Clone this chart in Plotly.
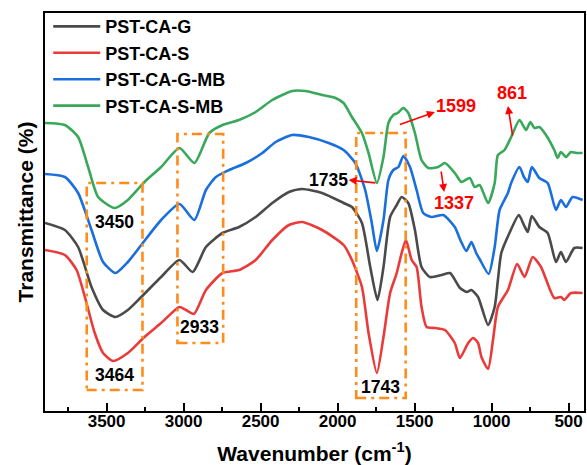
import plotly.graph_objects as go

# FTIR spectra (wavenumber in cm-1, transmittance in offset arbitrary units)
wn_g = [3900, 3771, 3685, 3598, 3523, 3443, 3362, 3275, 3146, 3027, 2941, 2855, 2747, 2640,
        2532, 2424, 2316, 2230, 2101, 1961, 1907, 1842, 1788, 1741, 1702, 1659, 1616, 1584,
        1541, 1498, 1455, 1401, 1325, 1270, 1205, 1162, 1131, 1088, 1023, 980, 959, 937,
        884, 823, 790, 765, 739, 690, 636, 582, 550, 517, 463, 409]
t_g = [188, 181, 164, 124, 101, 94, 101, 114, 134, 151, 139, 164, 178, 184,
       194, 208, 219, 222, 218, 208, 204, 188, 144, 111, 144, 194, 206, 214,
       208, 181, 144, 134, 136, 138, 123, 119, 121, 114, 86, 104, 131, 158,
       178, 196, 186, 179, 195, 184, 178, 149, 159, 149, 163, 163]

wn_s = [3900, 3771, 3695, 3641, 3577, 3523, 3458, 3362, 3254, 3146, 3027, 2985, 2933, 2855,
        2747, 2640, 2532, 2424, 2316, 2230, 2101, 1961, 1907, 1842, 1799, 1745, 1702, 1659,
        1616, 1584, 1556, 1519, 1487, 1455, 1422, 1368, 1303, 1239, 1206, 1152, 1120, 1088,
        1066, 1023, 991, 959, 894, 834, 786, 733, 679, 593, 550, 528, 485, 409]
t_s = [161, 156, 141, 114, 78, 58, 50, 58, 74, 88, 104, 101, 97, 121,
       138, 141, 151, 171, 186, 189, 181, 166, 151, 124, 78, 38, 74, 118,
       138, 158, 171, 151, 144, 104, 84, 83, 81, 68, 53, 68, 73, 68,
       54, 42, 71, 104, 121, 147, 134, 154, 144, 113, 114, 111, 118, 118]

wn_gmb = [3900, 3771, 3685, 3598, 3523, 3443, 3362, 3275, 3146, 3027, 2930, 2855, 2790, 2704,
          2596, 2489, 2402, 2295, 2187, 2058, 1961, 1885, 1821, 1778, 1745, 1702, 1670, 1638,
          1605, 1573, 1530, 1487, 1444, 1390, 1314, 1239, 1200, 1164, 1131, 1100, 1078, 1019,
          980, 948, 894, 873, 819, 790, 765, 739, 690, 636, 582, 550, 517, 474, 409]
t_gmb = [237, 234, 218, 181, 149, 138, 149, 166, 191, 207, 191, 221, 234, 241,
         248, 258, 269, 276, 274, 268, 261, 248, 221, 188, 160, 191, 231, 241,
         244, 255, 244, 221, 198, 194, 196, 184, 170, 160, 169, 158, 152, 137,
         164, 201, 218, 228, 244, 234, 229, 244, 233, 228, 201, 211, 204, 214, 211]

wn_smb = [3900, 3771, 3685, 3620, 3555, 3448, 3362, 3254, 3146, 3027, 2930, 2833, 2747, 2640,
          2532, 2424, 2295, 2208, 2101, 2014, 1961, 1907, 1842, 1799, 1745, 1702, 1670, 1638,
          1610, 1573, 1541, 1498, 1455, 1411, 1347, 1303, 1239, 1196, 1142, 1110, 1078, 1023,
          980, 959, 916, 873, 819, 776, 748, 722, 690, 647, 593, 571, 550, 517, 485, 450, 409]
t_smb = [288, 286, 274, 244, 214, 203, 211, 229, 244, 263, 248, 278, 286, 291,
         299, 311, 320, 320, 316, 313, 308, 294, 278, 258, 228, 254, 288, 296,
         298, 303, 298, 278, 251, 243, 244, 248, 238, 229, 233, 224, 226, 208,
         228, 256, 261, 274, 291, 281, 289, 283, 284, 276, 261, 253, 259, 254, 259, 258, 258]

series = [
    ("PST-CA-G", wn_g, t_g, "#4a4a4a"),
    ("PST-CA-S", wn_s, t_s, "#ea3b3b"),
    ("PST-CA-G-MB", wn_gmb, t_gmb, "#1a6fdc"),
    ("PST-CA-S-MB", wn_smb, t_smb, "#39a85a"),
]

# highlighted band regions: (wn_high, wn_low, t_low, t_high)
boxes = [(3629, 3267, 21, 228), (3040, 2743, 68, 277), (1879, 1558, 13, 278)]

FONT = "Arial, Liberation Sans, sans-serif"
fig = go.Figure()
for name, x, y, c in series:
    fig.add_trace(go.Scatter(x=x, y=y, mode="lines", name=name,
                             line=dict(color=c, width=2.6, shape="spline", smoothing=0.6)))

for x0, x1, y0, y1 in boxes:
    fig.add_shape(type="rect", xref="x", yref="y", x0=x0, x1=x1, y0=y0, y1=y1,
                  line=dict(color="#ff8c1a", width=2.6, dash="10px,5px,3px,5px"))

labels = [("3450", 3448, 189, "black", 17.5), ("3464", 3448, 36, "black", 17.5),
          ("2933", 2898, 84, "black", 17.5), ("1743", 1724, 24, "black", 17.5),
          ("1735", 2062, 231, "black", 17.5), ("1599", 1232, 305, "red", 18),
          ("1337", 1243, 208, "red", 18), ("861", 868, 318, "red", 18)]
for txt, x, y, c, s in labels:
    fig.add_annotation(x=x, y=y, text=f"<b>{txt}</b>", showarrow=False,
                       font=dict(family=FONT, size=s, color=c))

# arrows: (head_x, head_y, tail_x, tail_y)
arrows = [(1928, 231, 1745, 228), (1368, 299, 1605, 286),
          (1308, 219, 1329, 241), (894, 305, 862, 274)]
for hx, hy, tx, ty in arrows:
    fig.add_annotation(x=hx, y=hy, ax=tx, ay=ty, xref="x", yref="y", axref="x", ayref="y",
                       text="", showarrow=True, arrowhead=2, arrowsize=1, arrowwidth=1.6,
                       arrowcolor="red", standoff=0, startstandoff=0)

fig.update_layout(
    width=587, height=465, margin=dict(l=45, r=1, t=13, b=54),
    plot_bgcolor="white", paper_bgcolor="white",
    font=dict(family=FONT, size=17, color="black"),
    legend=dict(x=0.006, y=1.012, xanchor="left", yanchor="top", bgcolor="rgba(0,0,0,0)",
                font=dict(family=FONT, size=18, color="black", weight="bold"),
                itemwidth=47, tracegroupgap=0),
    showlegend=True,
)
fig.update_xaxes(range=[3900, 400], tickvals=[3500, 3000, 2500, 2000, 1500, 1000, 500],
                 ticks="inside", ticklen=8, tickwidth=1.5, tickcolor="black",
                 minor=dict(dtick=250, tick0=0, ticks="inside", ticklen=4, tickwidth=1.5,
                            tickcolor="black"),
                 showline=True, linecolor="black", linewidth=1.8, mirror=True, showgrid=False,
                 zeroline=False,
                 tickfont=dict(family=FONT, size=17, weight="bold"),
                 title=dict(text="<b>Wavenumber (cm<sup>-1</sup>)</b>", standoff=18,
                            font=dict(family=FONT, size=21)))
try:
    fig.update_xaxes(ticklabelstandoff=-6)
except ValueError:
    pass
fig.update_yaxes(range=[0, 398], showticklabels=False, ticks="", showline=True,
                 linecolor="black", linewidth=1.8, mirror=True, showgrid=False, zeroline=False,
                 title=dict(text="<b>Transmittance (%)</b>", standoff=4,
                            font=dict(family=FONT, size=21)))

fig.write_html("out.html")
